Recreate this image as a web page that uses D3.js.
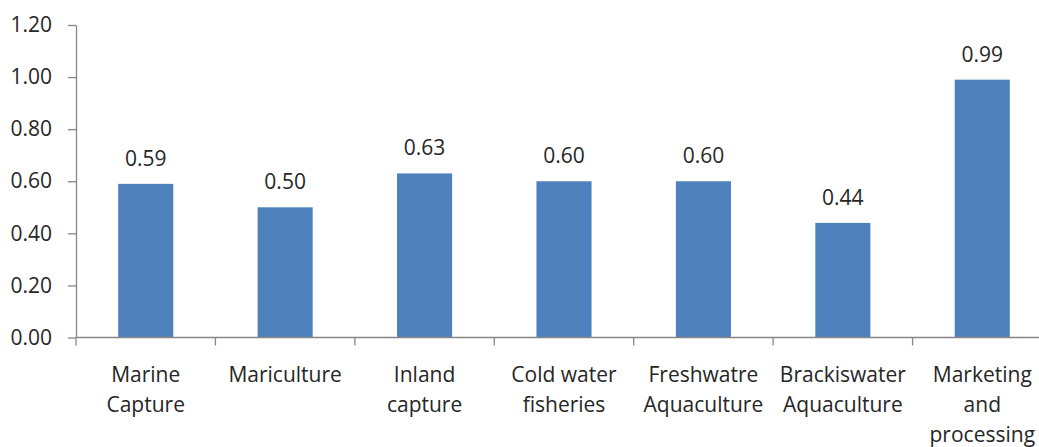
<!DOCTYPE html>
<html>
<head>
<meta charset="utf-8">
<script src="https://cdn.jsdelivr.net/npm/d3@7"></script>
<style>
  html, body { margin: 0; padding: 0; background: #fff; }
  svg { display: block; }
  text { font-family: "Open Sans", sans-serif; fill: #262626; }
</style>
</head>
<body>
<svg id="chart" width="1039" height="447"></svg>
<script>
// Categories (each label split into its display lines)
const categories = [
  "Marine Capture",
  "Mariculture",
  "Inland capture",
  "Cold water fisheries",
  "Freshwatre Aquaculture",
  "Brackiswater Aquaculture",
  "Marketing and processing"
];
const categoryLines = [
  ["Marine", "Capture"],
  ["Mariculture"],
  ["Inland", "capture"],
  ["Cold water", "fisheries"],
  ["Freshwatre", "Aquaculture"],
  ["Brackiswater", "Aquaculture"],
  ["Marketing", "and", "processing"]
];
const values = [0.59, 0.50, 0.63, 0.60, 0.60, 0.44, 0.99];
const yTicks = [0, 0.2, 0.4, 0.6, 0.8, 1.0, 1.2];

const svg = d3.select("#chart");
const axisColor = "#868686";
const barColor = "#4F81BD";

const plotLeft = 76, plotRight = 1052, plotTop = 25, plotBottom = 337.5;

const x = d3.scaleBand()
  .domain(categories)
  .range([plotLeft, plotRight])
  .paddingInner(0.605)
  .paddingOuter(0.3025);

const y = d3.scaleLinear()
  .domain([0, 1.2])
  .range([plotBottom, plotTop]);

// Bars
svg.append("g")
  .selectAll("rect")
  .data(categories)
  .join("rect")
  .attr("x", d => x(d))
  .attr("y", (d, i) => y(values[i]))
  .attr("width", x.bandwidth())
  .attr("height", (d, i) => y(0) - y(values[i]))
  .attr("fill", barColor);

// Value labels
svg.append("g")
  .selectAll("text")
  .data(categories)
  .join("text")
  .attr("x", d => x(d) + x.bandwidth() / 2)
  .attr("y", (d, i) => y(values[i]) - 18)
  .attr("text-anchor", "middle")
  .style("font-size", "21px")
  .text((d, i) => values[i].toFixed(2));

// Y axis
const yAxis = svg.append("g")
  .attr("transform", `translate(${plotLeft},0)`)
  .call(d3.axisLeft(y).tickValues(yTicks).tickFormat(d3.format(".2f")).tickSize(8).tickSizeOuter(0).tickPadding(16));
yAxis.select(".domain").attr("stroke", axisColor).attr("stroke-width", 1.3);
yAxis.selectAll(".tick line").attr("stroke", axisColor).attr("stroke-width", 1.3);
yAxis.selectAll(".tick text")
  .attr("fill", "#262626")
  .style("font-family", "'Open Sans', sans-serif")
  .style("font-size", "21px");

// X axis baseline and category boundary ticks
const step = x.step();
const boundaries = d3.range(categories.length + 1).map(i => plotLeft + i * step);
const xg = svg.append("g");
xg.append("line")
  .attr("x1", plotLeft).attr("x2", plotRight)
  .attr("y1", y(0)).attr("y2", y(0))
  .attr("stroke", axisColor).attr("stroke-width", 1.3);
xg.selectAll("line.bound")
  .data(boundaries)
  .join("line")
  .attr("class", "bound")
  .attr("x1", d => d).attr("x2", d => d)
  .attr("y1", y(0)).attr("y2", y(0) + 8)
  .attr("stroke", axisColor).attr("stroke-width", 1.3);

// Category labels
const labels = svg.append("g")
  .selectAll("text")
  .data(categories)
  .join("text")
  .attr("x", d => x(d) + x.bandwidth() / 2)
  .attr("y", 382)
  .attr("text-anchor", "middle")
  .style("font-size", "21px");
labels.each(function(d, i) {
  d3.select(this).selectAll("tspan")
    .data(categoryLines[i])
    .join("tspan")
    .attr("x", x(d) + x.bandwidth() / 2)
    .attr("dy", (t, j) => j === 0 ? 0 : 30)
    .text(t => t);
});
</script>
</body>
</html>
